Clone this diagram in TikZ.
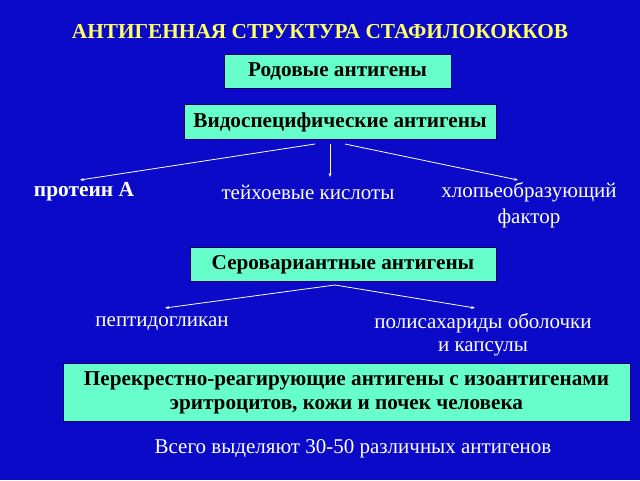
\documentclass[tikz,border=0pt]{standalone}
\usepackage{fontspec}
\setmainfont{Liberation Serif}
\usetikzlibrary{arrows.meta}
\definecolor{bg}{RGB}{10,10,200}
\definecolor{boxfill}{RGB}{102,255,204}
\definecolor{titley}{RGB}{255,255,102}
\tikzset{
  box/.style={fill=boxfill, draw=black!60!blue, line width=0.4pt, inner sep=0pt, font=\fontsize{21.2}{24}\selectfont\bfseries, text=black},
  onebox/.style={box, text height=14pt, text depth=3pt},
  lab/.style={text=white, font=\fontsize{21}{24}\selectfont, align=center, inner sep=0pt},
  conn/.style={draw=white, line width=0.8pt, -{Stealth[length=4pt,width=3pt]}},
}
\begin{document}
\begin{tikzpicture}[x=1pt,y=-1pt]
\fill[bg] (0,0) rectangle (640,480);
\useasboundingbox (0,0) rectangle (640,480);
\node[text=titley, font=\fontsize{21.3}{24}\selectfont\bfseries, inner sep=0pt] (title) at (320,32) {АНТИГЕННАЯ СТРУКТУРА СТАФИЛОКОККОВ};
\node[onebox, minimum width=227pt, minimum height=34pt] (rod) at (337.5,71) {Родовые антигены};
\node[onebox, minimum width=312pt, minimum height=35pt] (vid) at (340,121.5) {Видоспецифические антигены};
\node[lab, font=\fontsize{21.4}{24}\selectfont\bfseries] (prot) at (84,192) {протеин А};
\node[lab] (teich) at (308,192) {тейхоевые кислоты};
\node[lab, font=\fontsize{21}{26}\selectfont] (floc) at (529,205) {хлопьеобразующий\\фактор};
\coordinate (v1) at (315,144);
\coordinate (v2) at (330,144);
\coordinate (v3) at (345,144);
\coordinate (p1) at (80,180);
\coordinate (p2) at (330,177);
\coordinate (p3) at (518,180);
\draw[conn] (v1) -- (p1);
\draw[conn] (v2) -- (p2);
\draw[conn] (v3) -- (p3);
\node[onebox, minimum width=306pt, minimum height=34pt] (ser) at (343,264) {Серовариантные антигены};
\coordinate (s0) at (335,285);
\coordinate (q1) at (165,308);
\coordinate (q2) at (475,308);
\draw[conn] (s0) -- (q1);
\draw[conn] (s0) -- (q2);
\node[lab] (pept) at (162,324) {пептидогликан};
\node[lab, font=\fontsize{21}{23}\selectfont] (poly) at (483,335) {полисахариды оболочки\\и капсулы};
\node[box, minimum width=567pt, minimum height=58pt, align=center] (cross) at (346.5,392) {\rule{0pt}{15pt}Перекрестно-реагирующие антигены с изоантигенами\\эритроцитов, кожи и почек человека};
\node[lab] (total) at (353,449) {Всего выделяют 30-50 различных антигенов};
\end{tikzpicture}
\end{document}
